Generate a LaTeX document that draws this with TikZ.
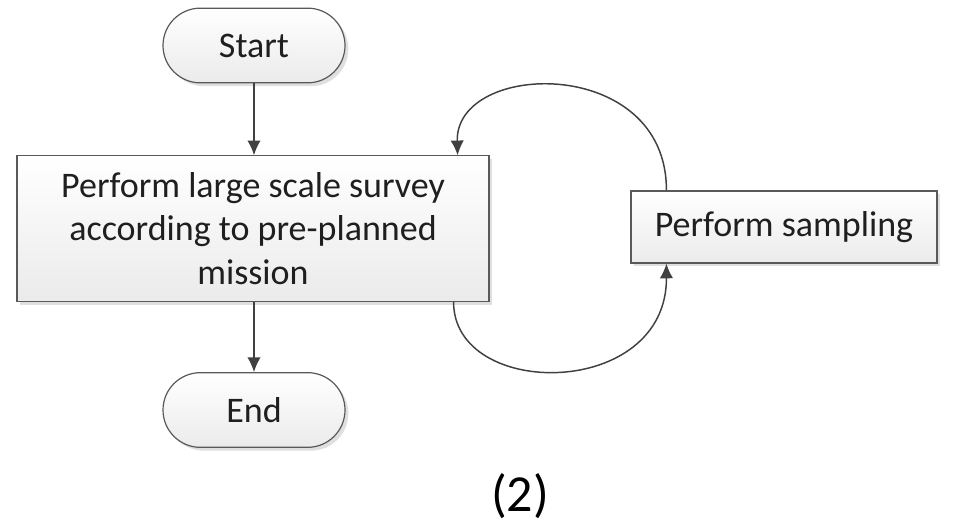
\documentclass[tikz,border=0pt]{standalone}
\usepackage{fontspec}
\setmainfont{Carlito}
\usetikzlibrary{calc,arrows.meta,shadows}
\definecolor{edge}{HTML}{595959}
\definecolor{ink}{HTML}{404040}
\begin{document}
\begin{tikzpicture}[x=0.75pt,y=-0.75pt,
    box/.style={draw=edge,line width=0.9pt,top color=white,bottom color=gray!16,
      drop shadow={opacity=0.25,shadow xshift=2.5pt,shadow yshift=-2.5pt},
      text=black!88,font=\fontsize{27}{32.6}\selectfont,align=center,inner sep=0pt},
    term/.style={box,rounded corners=28pt,minimum width=136.5pt,minimum height=56pt},
    flow/.style={ink,line width=1.1pt,-{Latex[length=11pt,width=10pt]}}]
    \useasboundingbox(0,0)rectangle(955,527);
    \node[term](start)at(254,45.5){Start};
    \node[box,minimum width=354pt,minimum height=109pt](survey)at(253,228.5)
      {Perform large scale survey\\according to pre-planned\\mission};
    \node[box,minimum width=229.5pt,minimum height=54pt](sampling)at(784,227){Perform sampling};
    \node[term](end)at(254,410){End};
    \node[font=\fontsize{39}{39}\selectfont,anchor=base](caption)at(520,511){(2)};
    \coordinate(sTop)at($(sampling.north west)+(36,0)$);
    \coordinate(sBot)at($(sampling.south west)+(36,0)$);
    \coordinate(vTop)at($(survey.north east)+(-32,0)$);
    \coordinate(vBot)at($(survey.south east)+(-36,0)$);
    \draw[flow](start.south)--(start.south|-survey.north);
    \draw[flow](survey.south-|end.north)--(end.north);
    \draw[flow](sTop)..controls(667,55)and(455,60)..(vTop);
    \draw[flow](vBot)..controls(453,400)and(667,400)..(sBot);
  \end{tikzpicture}
\end{document}
